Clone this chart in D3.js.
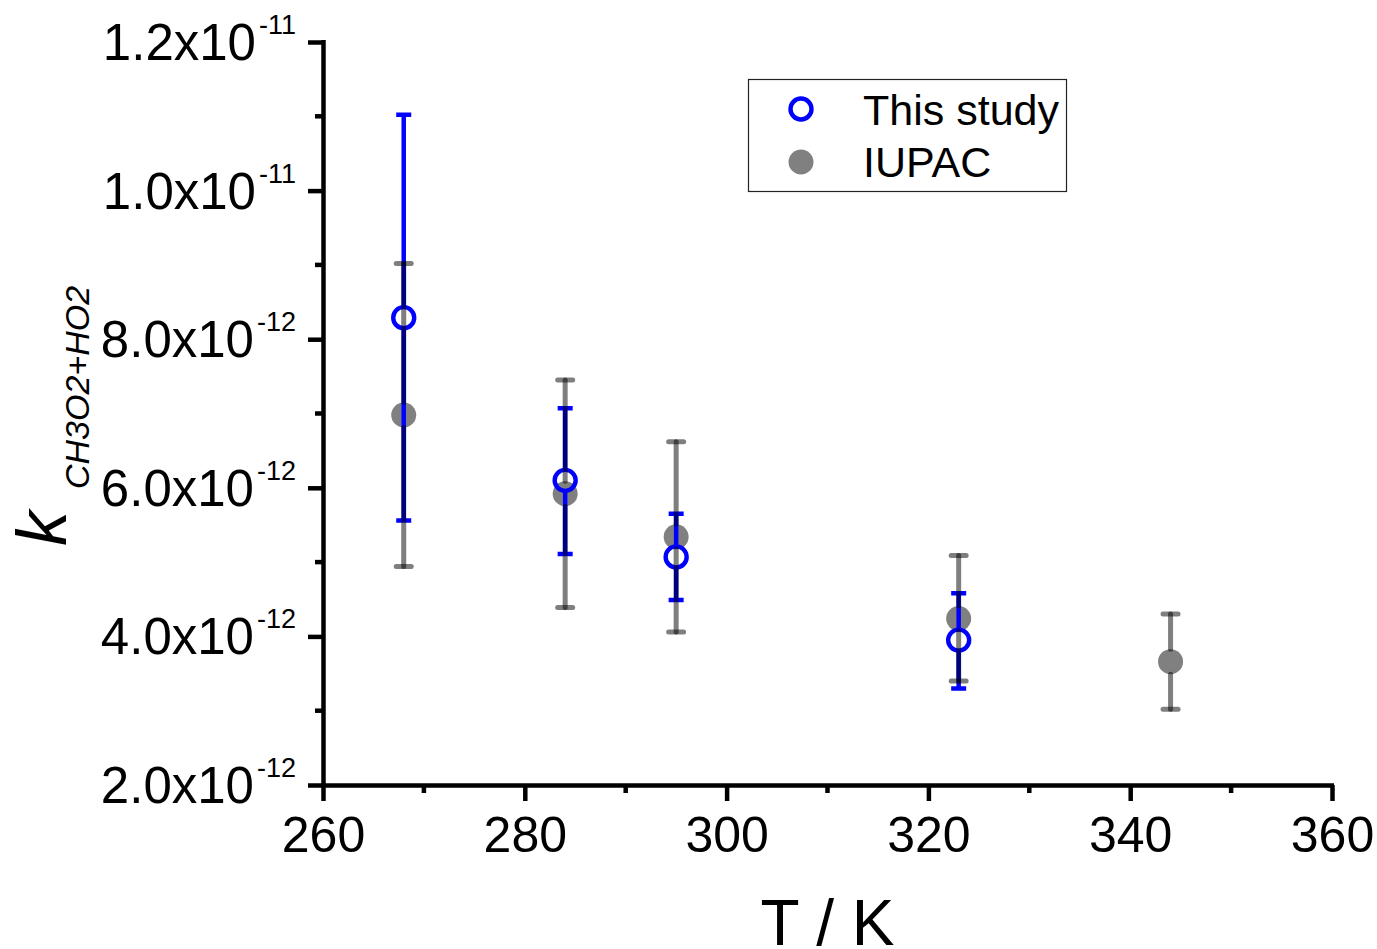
<!DOCTYPE html>
<html>
<head>
<meta charset="utf-8">
<script src="https://cdn.jsdelivr.net/npm/d3@7/dist/d3.min.js"></script>
<style>
  html, body { margin: 0; padding: 0; background: #fff; }
  svg { display: block; font-family: "Liberation Sans", Arial, sans-serif; }
</style>
</head>
<body>
<svg id="chart" width="1377" height="949"></svg>
<script>
// ---- data ----
const studyT    = [268, 284, 295, 323];
const studyK    = [8.29e-12, 6.10e-12, 5.07e-12, 3.95e-12];
const studyHigh = [11.02e-12, 7.07e-12, 5.65e-12, 4.58e-12];
const studyLow  = [5.56e-12, 5.11e-12, 4.49e-12, 3.30e-12];

const iupacT    = [268, 284, 295, 323, 344];
const iupacK    = [6.98e-12, 5.92e-12, 5.34e-12, 4.24e-12, 3.66e-12];
const iupacHigh = [9.02e-12, 7.45e-12, 6.62e-12, 5.09e-12, 4.30e-12];
const iupacLow  = [4.94e-12, 4.39e-12, 4.06e-12, 3.40e-12, 3.02e-12];

const xTicks = [260, 280, 300, 320, 340, 360];
const xMinor = [270, 290, 310, 330, 350];
const yTicks = [2e-12, 4e-12, 6e-12, 8e-12, 1e-11, 1.2e-11];
const yTickMain = ["2.0x10", "4.0x10", "6.0x10", "8.0x10", "1.0x10", "1.2x10"];
const yTickExp  = ["-12", "-12", "-12", "-12", "-11", "-11"];
const yMinor = [3e-12, 5e-12, 7e-12, 9e-12, 1.1e-11];
const seriesNames = ["This study", "IUPAC"];

// ---- layout ----
const svg = d3.select("#chart");
const x = d3.scaleLinear().domain([260, 360]).range([323, 1332]);
const y = d3.scaleLinear().domain([2e-12, 1.2e-11]).range([785, 42]);

const BLUE = "#0000ff";
const GREYA = "rgba(0,0,0,0.5)";
const rMark = 12.5;     // IUPAC dot radius
const rRing = 10.5;     // study ring radius

const study = studyT.map((t, i) => ({t, k: studyK[i], hi: studyHigh[i], lo: studyLow[i]}));
const iupac = iupacT.map((t, i) => ({t, k: iupacK[i], hi: iupacHigh[i], lo: iupacLow[i]}));

// ---- axes ----
const gx = svg.append("g").attr("transform", "translate(0,785)");
gx.call(d3.axisBottom(x).tickValues(xTicks).tickSize(16).tickSizeOuter(0).tickPadding(12).tickFormat(d3.format("d")));
gx.select(".domain").attr("stroke", "#000").attr("stroke-width", 4.5)
  .attr("d", `M${x(260) - 2},0.5H${x(360) + 2}`);
gx.selectAll(".tick line").attr("stroke", "#000").attr("stroke-width", 4.5);
gx.selectAll(".tick text").attr("font-size", 50).attr("fill", "#000").attr("dy", null).attr("y", 67);
gx.selectAll(".minor").data(xMinor).join("line")
  .attr("x1", d => x(d)).attr("x2", d => x(d)).attr("y1", 0).attr("y2", 8)
  .attr("stroke", "#000").attr("stroke-width", 4.5);

const gy = svg.append("g").attr("transform", "translate(323,0)");
gy.call(d3.axisLeft(y).tickValues(yTicks).tickSize(15).tickSizeOuter(0).tickFormat(""));
gy.select(".domain").attr("stroke", "#000").attr("stroke-width", 4.5)
  .attr("d", `M0.5,${y(1.2e-11) - 2}V${y(2e-12) + 2}`);
gy.selectAll(".tick line").attr("stroke", "#000").attr("stroke-width", 4.5);
gy.selectAll(".minor").data(yMinor).join("line")
  .attr("x1", 0).attr("x2", -8).attr("y1", d => y(d)).attr("y2", d => y(d))
  .attr("stroke", "#000").attr("stroke-width", 4.5);

const ylab = svg.append("g").selectAll("text").data(yTicks).join("text")
  .attr("x", 296).attr("y", d => y(d) + 18)
  .attr("text-anchor", "end").attr("font-size", 51).attr("fill", "#000");
ylab.append("tspan").text((d, i) => yTickMain[i]);
ylab.append("tspan").attr("font-size", 27).attr("dx", 3).attr("dy", -26).text((d, i) => yTickExp[i]);

// axis titles
svg.append("text").attr("x", (x(260) + x(360)) / 2).attr("y", 945)
  .attr("text-anchor", "middle").attr("font-size", 64).attr("fill", "#000").text("T / K");

const ytitle = svg.append("g").attr("font-style", "italic").attr("fill", "#000");
ytitle.append("text").attr("transform", "translate(66,546) rotate(-90)")
  .attr("font-size", 70).text("k");
ytitle.append("text").attr("transform", "translate(89,489) rotate(-90)")
  .attr("font-size", 34).text("CH3O2+HO2");

// ---- marks ----
const plot = svg.append("g");
// IUPAC filled dots (underneath)
plot.append("g").selectAll("circle").data(iupac).join("circle")
  .attr("cx", d => x(d.t)).attr("cy", d => y(d.k)).attr("r", rMark).attr("fill", "#808080");

// study error bars (gap at marker)
const sb = plot.append("g").attr("stroke", BLUE).attr("stroke-width", 4.5).attr("fill", "none");
sb.selectAll("path.bar").data(study).join("path").attr("class", "bar")
  .attr("d", d => `M${x(d.t)},${y(d.hi)}V${y(d.k) - rRing}M${x(d.t)},${y(d.k) + rRing}V${y(d.lo)}`);
sb.selectAll("path.cap").data(study).join("path").attr("class", "cap")
  .attr("d", d => `M${x(d.t) - 7.5},${y(d.hi)}H${x(d.t) + 7.5}M${x(d.t) - 7.5},${y(d.lo)}H${x(d.t) + 7.5}`);

// study rings
plot.append("g").selectAll("circle").data(study).join("circle")
  .attr("cx", d => x(d.t)).attr("cy", d => y(d.k)).attr("r", rRing)
  .attr("fill", "none").attr("stroke", BLUE).attr("stroke-width", 4.4);

// IUPAC error bars (translucent, on top)
const gb = plot.append("g").attr("stroke", GREYA).attr("stroke-width", 5).attr("stroke-linecap", "round").attr("fill", "none");
iupac.forEach(d => {
  const cx = x(d.t);
  gb.append("line").attr("x1", cx).attr("x2", cx).attr("y1", y(d.hi)).attr("y2", y(d.k) - rMark);
  gb.append("line").attr("x1", cx).attr("x2", cx).attr("y1", y(d.k) + rMark).attr("y2", y(d.lo));
  gb.append("line").attr("x1", cx - 7.5).attr("x2", cx + 7.5).attr("y1", y(d.hi)).attr("y2", y(d.hi));
  gb.append("line").attr("x1", cx - 7.5).attr("x2", cx + 7.5).attr("y1", y(d.lo)).attr("y2", y(d.lo));
});

// ---- legend ----
const lg = svg.append("g");
lg.append("rect").attr("x", 748.5).attr("y", 79.5).attr("width", 318).attr("height", 112)
  .attr("fill", "#fff").attr("stroke", "#222").attr("stroke-width", 1.2);
lg.append("circle").attr("cx", 801).attr("cy", 109).attr("r", rRing)
  .attr("fill", "none").attr("stroke", BLUE).attr("stroke-width", 4.4);
lg.append("circle").attr("cx", 801).attr("cy", 162).attr("r", rMark).attr("fill", "#808080");
lg.selectAll("text").data(seriesNames).join("text")
  .attr("x", 863).attr("y", (d, i) => 125 + i * 52)
  .attr("font-size", 43).attr("fill", "#000").text(d => d);
</script>
</body>
</html>
